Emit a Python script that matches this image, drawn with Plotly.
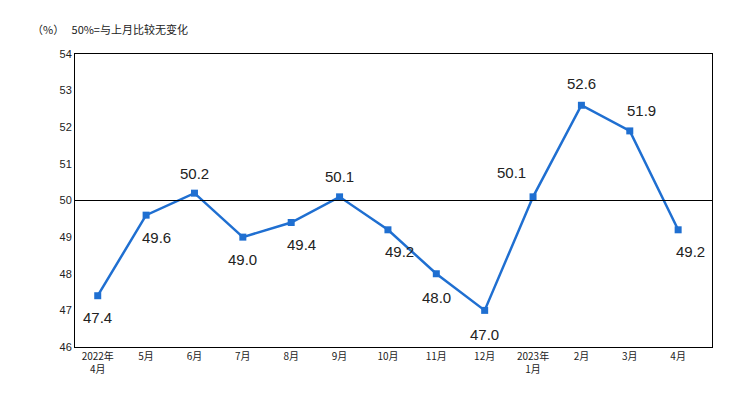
import plotly.graph_objects as go

cats = ["2022年<br>4月","5月","6月","7月","8月","9月","10月","11月","12月","2023年<br>1月","2月","3月","4月"]
vals = [47.4,49.6,50.2,49.0,49.4,50.1,49.2,48.0,47.0,50.1,52.6,51.9,49.2]
# label offsets (dx, dy) in px
offs = [(0,22),(10,22),(0,-20),(0,22),(10,22),(0,-20),(12,22),(0,24),(0,24),(-22,-24),(0,-22),(12,-20),(12,22)]

xs = list(range(len(cats)))
fig = go.Figure(go.Scatter(x=xs, y=vals, mode="lines+markers",
    line=dict(color="#1f6fd1", width=2.5), marker=dict(symbol="square", size=7, color="#1f6fd1")))
for i,(v,(dx,dy)) in enumerate(zip(vals,offs)):
    fig.add_annotation(x=i, y=v, text=f"{v:.1f}", showarrow=False, xshift=dx, yshift=-dy,
                       font=dict(family="Liberation Sans, Arial", size=15, color="#222"))
fig.add_shape(type="line", xref="paper", x0=0, x1=1, y0=50, y1=50, line=dict(color="black", width=1))
fig.add_annotation(xref="paper", yref="paper", x=-0.07, y=1.12, xanchor="left", showarrow=False,
                   text="（%）   50%=与上月比较无变化", font=dict(family="Noto Sans CJK SC", size=11, color="#222"))
fig.update_layout(width=748, height=415, margin=dict(l=67, r=44, t=46, b=76),
    paper_bgcolor="white", plot_bgcolor="white", showlegend=False,
    xaxis=dict(range=[-0.47, 12.7], tickvals=xs, ticktext=cats, showgrid=False, zeroline=False,
               showline=True, linecolor="black", mirror=True, ticks="",
               tickfont=dict(family="Noto Sans CJK SC", size=10, color="#222")),
    yaxis=dict(range=[46,54], dtick=1, showgrid=False, zeroline=False, showline=True, linecolor="black",
               mirror=True, ticks="", tickfont=dict(family="Liberation Sans, Arial", size=11, color="#222")))
fig.write_html("out.html")
